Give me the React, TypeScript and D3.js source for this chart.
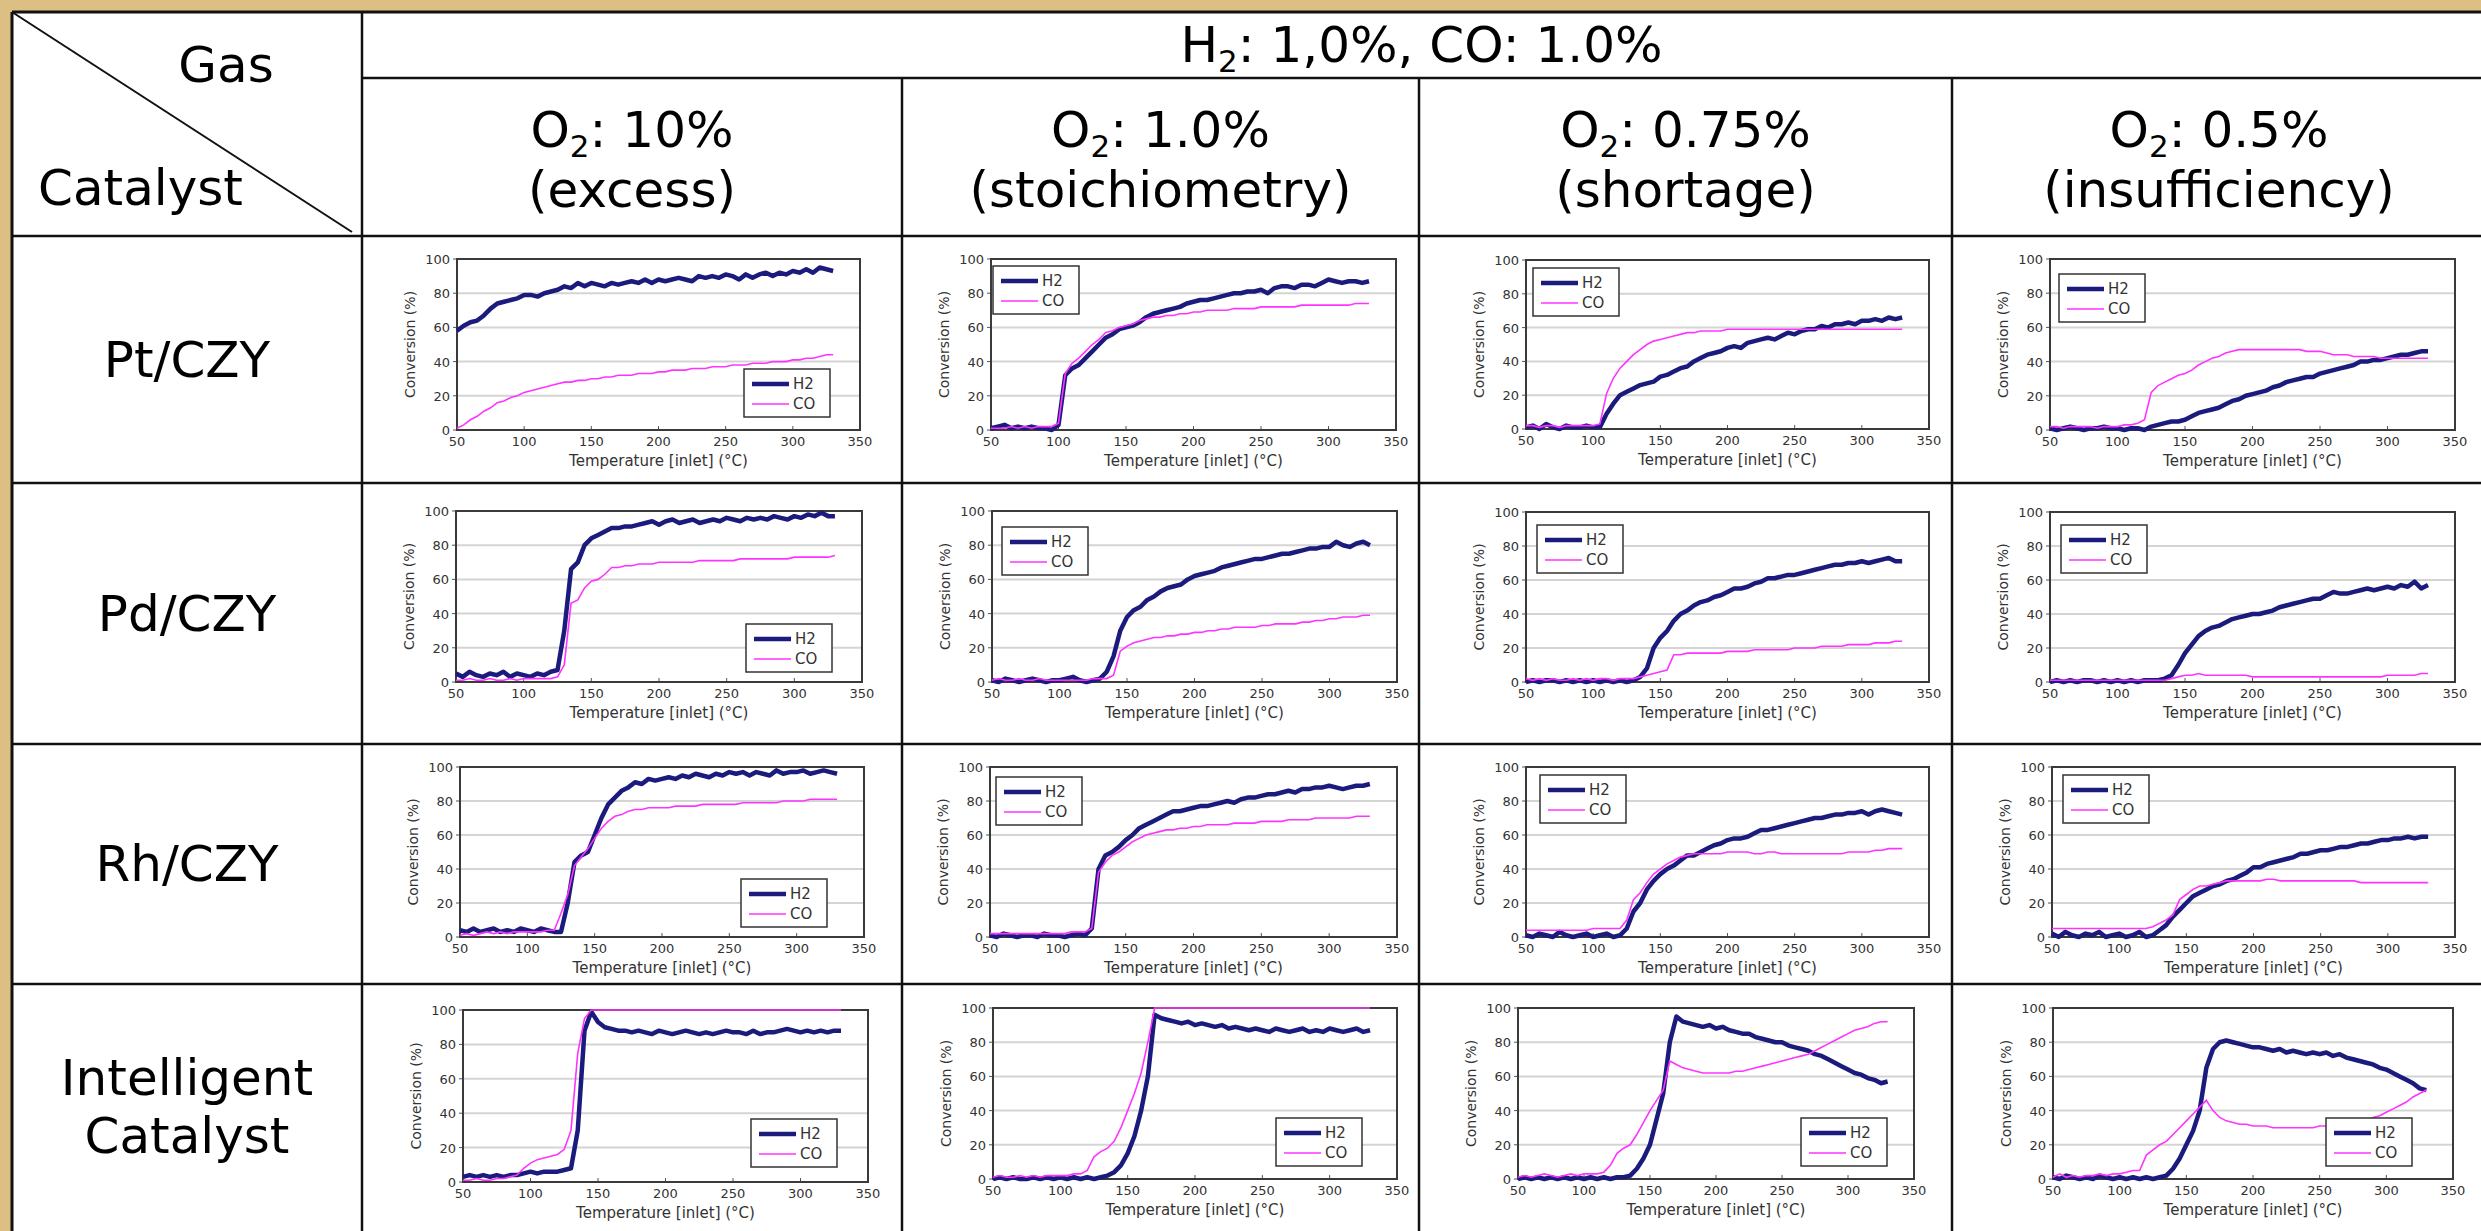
import React from 'react';
import * as d3 from 'd3';

// ---------- categories / labels ----------
const CATALYSTS = [['Pt/CZY'], ['Pd/CZY'], ['Rh/CZY'], ['Intelligent', 'Catalyst']];
const O2_LEVELS = ['10%', '1.0%', '0.75%', '0.5%'];
const O2_NOTES = ['(excess)', '(stoichiometry)', '(shortage)', '(insufficiency)'];
const X_TICKS = [50, 100, 150, 200, 250, 300, 350];
const Y_TICKS = [0, 20, 40, 60, 80, 100];

// inlet temperature grid (°C) shared by every series
const TEMPS = [
  50, 55, 60, 65, 70, 75, 80, 85, 90, 95,
  100, 105, 110, 115, 120, 125, 130, 135, 140, 145,
  150, 155, 160, 165, 170, 175, 180, 185, 190, 195,
  200, 205, 210, 215, 220, 225, 230, 235, 240, 245,
  250, 255, 260, 265, 270, 275, 280, 285, 290, 295,
  300, 305, 310, 315, 320, 325, 330,
];

// ---------- conversion (%) ----------
const PT_EXCESS_H2 = [58, 61, 63, 64, 67, 71, 74, 75, 76, 77, 79, 79, 78, 80, 81, 82, 84, 83, 86, 84, 86, 85, 84, 86, 85, 86, 87, 86, 88, 86, 88, 87, 88, 89, 88, 87, 90, 89, 90, 89, 91, 90, 88, 91, 89, 91, 92, 90, 92, 91, 93, 92, 94, 92, 95, 94, 93];
const PT_EXCESS_CO = [1, 3, 6, 8, 11, 13, 16, 17, 19, 20, 22, 23, 24, 25, 26, 27, 28, 28, 29, 29, 30, 30, 31, 31, 32, 32, 32, 33, 33, 33, 34, 34, 35, 35, 35, 36, 36, 36, 37, 37, 37, 38, 38, 38, 39, 39, 39, 40, 40, 40, 41, 41, 42, 42, 43, 44, 44];
const PT_STOICH_H2 = [1, 2, 3, 1, 2, 1, 2, 1, 1, 0, 3, 32, 36, 38, 42, 46, 50, 54, 56, 59, 60, 61, 63, 66, 68, 69, 70, 71, 72, 74, 75, 76, 76, 77, 78, 79, 80, 80, 81, 81, 82, 80, 83, 84, 84, 83, 85, 85, 84, 86, 88, 87, 86, 87, 87, 86, 87];
const PT_STOICH_CO = [1, 1, 1, 2, 1, 2, 1, 2, 2, 2, 4, 33, 39, 42, 46, 50, 53, 57, 58, 60, 61, 62, 64, 65, 66, 66, 67, 67, 68, 68, 69, 69, 70, 70, 70, 70, 71, 71, 71, 71, 72, 72, 72, 72, 72, 72, 73, 73, 73, 73, 73, 73, 73, 73, 74, 74, 74];
const PT_SHORT_H2 = [1, 2, 0, 3, 1, 0, 2, 1, 1, 2, 1, 1, 9, 15, 20, 22, 24, 26, 27, 28, 31, 32, 34, 36, 37, 40, 42, 44, 45, 46, 48, 49, 48, 51, 52, 53, 54, 53, 55, 57, 56, 58, 59, 59, 61, 60, 62, 62, 63, 62, 64, 64, 65, 64, 66, 65, 66];
const PT_SHORT_CO = [2, 2, 1, 2, 2, 1, 2, 2, 2, 2, 2, 3, 21, 30, 36, 40, 44, 47, 50, 52, 53, 54, 55, 56, 57, 57, 58, 58, 58, 58, 59, 59, 59, 59, 59, 59, 59, 59, 59, 59, 59, 59, 59, 59, 59, 59, 59, 59, 59, 59, 59, 59, 59, 59, 59, 59, 59];
const PT_INSUF_H2 = [1, 0, 1, 2, 1, 0, 1, 1, 2, 1, 1, 0, 1, 1, 0, 2, 3, 4, 5, 5, 6, 8, 10, 11, 12, 13, 15, 17, 18, 20, 21, 22, 23, 25, 26, 28, 29, 30, 31, 31, 33, 34, 35, 36, 37, 38, 40, 40, 41, 41, 42, 43, 44, 44, 45, 46, 46];
const PT_INSUF_CO = [2, 2, 1, 2, 2, 2, 2, 1, 2, 2, 2, 3, 3, 4, 6, 22, 26, 28, 30, 32, 33, 35, 38, 40, 42, 43, 45, 46, 47, 47, 47, 47, 47, 47, 47, 47, 47, 47, 46, 46, 46, 45, 44, 44, 44, 43, 43, 43, 43, 42, 42, 42, 42, 42, 42, 42, 42];

const PD_EXCESS_H2 = [5, 3, 6, 4, 3, 5, 4, 6, 3, 5, 4, 3, 5, 4, 6, 7, 30, 66, 70, 80, 84, 86, 88, 90, 90, 91, 91, 92, 93, 94, 92, 94, 95, 93, 94, 95, 93, 94, 95, 94, 96, 95, 94, 96, 95, 96, 95, 97, 96, 95, 97, 96, 98, 97, 99, 97, 97];
const PD_EXCESS_CO = [1, 1, 2, 1, 1, 2, 1, 1, 2, 1, 2, 2, 2, 2, 2, 3, 10, 46, 48, 55, 59, 60, 63, 67, 67, 68, 68, 69, 69, 69, 70, 70, 70, 70, 70, 70, 71, 71, 71, 71, 71, 71, 72, 72, 72, 72, 72, 72, 72, 72, 73, 73, 73, 73, 73, 73, 74];
const PD_STOICH_H2 = [1, 0, 2, 1, 0, 1, 2, 1, 0, 1, 1, 2, 3, 1, 0, 1, 2, 6, 15, 30, 38, 42, 44, 48, 50, 53, 55, 56, 57, 60, 62, 63, 64, 65, 67, 68, 69, 70, 71, 72, 72, 73, 74, 75, 75, 76, 77, 78, 78, 79, 79, 82, 80, 79, 81, 82, 80];
const PD_STOICH_CO = [1, 2, 1, 1, 2, 1, 1, 2, 1, 1, 1, 1, 1, 1, 1, 2, 2, 2, 4, 18, 21, 23, 24, 25, 26, 26, 27, 27, 28, 28, 29, 29, 30, 30, 31, 31, 32, 32, 32, 32, 33, 33, 34, 34, 34, 34, 35, 35, 36, 36, 37, 37, 38, 38, 38, 39, 39];
const PD_SHORT_H2 = [0, 1, 0, 1, 1, 0, 1, 0, 1, 0, 1, 0, 1, 0, 1, 0, 1, 3, 8, 20, 26, 30, 36, 40, 42, 45, 47, 48, 50, 51, 53, 55, 55, 56, 58, 59, 61, 61, 62, 63, 63, 64, 65, 66, 67, 68, 69, 69, 70, 70, 71, 70, 71, 72, 73, 71, 71];
const PD_SHORT_CO = [2, 1, 2, 1, 2, 1, 1, 2, 1, 2, 1, 2, 2, 1, 2, 2, 2, 3, 4, 5, 6, 7, 16, 16, 17, 17, 17, 17, 17, 17, 18, 18, 18, 18, 19, 19, 19, 19, 19, 19, 20, 20, 20, 20, 21, 21, 21, 21, 22, 22, 22, 22, 23, 23, 23, 24, 24];
const PD_INSUF_H2 = [0, 1, 0, 1, 0, 1, 1, 0, 1, 0, 1, 0, 1, 0, 1, 1, 1, 2, 4, 10, 17, 22, 27, 30, 32, 33, 35, 37, 38, 39, 40, 40, 41, 42, 44, 45, 46, 47, 48, 49, 49, 51, 53, 52, 52, 53, 54, 55, 54, 55, 56, 55, 57, 56, 59, 55, 57];
const PD_INSUF_CO = [1, 1, 1, 1, 1, 1, 1, 1, 1, 1, 1, 1, 1, 1, 1, 1, 1, 1, 2, 3, 4, 4, 5, 4, 4, 4, 4, 4, 4, 4, 3, 3, 3, 3, 3, 3, 3, 3, 3, 3, 3, 3, 3, 3, 3, 3, 3, 3, 3, 3, 4, 4, 4, 4, 4, 5, 5];

const RH_EXCESS_H2 = [4, 3, 5, 3, 4, 5, 3, 4, 3, 5, 4, 3, 5, 4, 3, 3, 20, 44, 48, 50, 60, 70, 78, 82, 86, 88, 91, 90, 93, 92, 93, 94, 93, 95, 94, 96, 95, 94, 96, 95, 97, 96, 97, 95, 97, 96, 95, 98, 96, 97, 97, 98, 96, 97, 98, 97, 96];
const RH_EXCESS_CO = [1, 2, 1, 2, 3, 2, 3, 2, 3, 3, 3, 3, 3, 4, 4, 14, 25, 42, 47, 52, 58, 64, 68, 71, 72, 74, 75, 75, 76, 76, 76, 76, 77, 77, 77, 77, 78, 78, 78, 78, 78, 78, 79, 79, 79, 79, 79, 79, 80, 80, 80, 80, 81, 81, 81, 81, 81];
const RH_STOICH_H2 = [1, 0, 2, 1, 0, 1, 1, 0, 2, 1, 1, 0, 1, 2, 1, 5, 40, 48, 50, 53, 57, 60, 64, 66, 68, 70, 72, 74, 74, 75, 76, 77, 77, 78, 79, 80, 79, 81, 82, 82, 83, 84, 84, 85, 86, 85, 87, 87, 88, 88, 89, 88, 87, 88, 89, 89, 90];
const RH_STOICH_CO = [2, 2, 2, 2, 2, 2, 2, 2, 2, 2, 2, 2, 3, 3, 3, 5, 38, 44, 48, 50, 53, 56, 58, 60, 61, 62, 63, 63, 64, 64, 65, 65, 66, 66, 66, 66, 67, 67, 67, 67, 68, 68, 68, 68, 69, 69, 69, 69, 70, 70, 70, 70, 70, 70, 71, 71, 71];
const RH_SHORT_H2 = [1, 0, 2, 1, 0, 3, 1, 0, 1, 2, 0, 1, 2, 0, 1, 5, 15, 20, 28, 33, 37, 40, 42, 45, 48, 48, 50, 52, 54, 55, 57, 58, 58, 59, 61, 63, 63, 64, 65, 66, 67, 68, 69, 70, 70, 71, 72, 72, 73, 73, 74, 72, 74, 75, 74, 73, 72];
const RH_SHORT_CO = [4, 4, 4, 4, 4, 4, 4, 4, 4, 4, 5, 5, 5, 5, 5, 10, 22, 26, 32, 37, 40, 43, 45, 47, 48, 49, 49, 49, 49, 49, 50, 50, 50, 50, 49, 49, 50, 50, 49, 49, 49, 49, 49, 49, 49, 49, 49, 49, 50, 50, 50, 50, 51, 51, 52, 52, 52];
const RH_INSUF_H2 = [2, 0, 3, 1, 0, 2, 1, 3, 0, 1, 2, 0, 1, 3, 0, 1, 4, 7, 12, 16, 20, 24, 26, 28, 30, 31, 33, 34, 36, 38, 41, 41, 43, 44, 45, 46, 47, 49, 49, 50, 51, 51, 52, 53, 53, 54, 55, 55, 56, 57, 57, 58, 58, 59, 58, 59, 59];
const RH_INSUF_CO = [5, 5, 5, 5, 5, 5, 5, 5, 5, 5, 5, 5, 5, 5, 5, 6, 8, 10, 13, 22, 25, 28, 30, 30, 31, 32, 33, 33, 33, 33, 33, 33, 34, 34, 33, 33, 33, 33, 33, 33, 33, 33, 33, 33, 33, 33, 32, 32, 32, 32, 32, 32, 32, 32, 32, 32, 32];

const IC_EXCESS_H2 = [3, 4, 3, 4, 3, 4, 3, 4, 4, 5, 6, 5, 6, 6, 6, 7, 8, 30, 88, 99, 93, 90, 89, 88, 88, 87, 88, 87, 86, 88, 87, 86, 87, 88, 87, 86, 87, 86, 87, 88, 87, 87, 86, 88, 86, 87, 87, 88, 89, 88, 87, 88, 87, 88, 87, 88, 88];
const IC_EXCESS_CO = [1, 1, 2, 1, 1, 2, 2, 3, 4, 8, 11, 13, 14, 15, 16, 19, 30, 75, 95, 100, 100, 100, 100, 100, 100, 100, 100, 100, 100, 100, 100, 100, 100, 100, 100, 100, 100, 100, 100, 100, 100, 100, 100, 100, 100, 100, 100, 100, 100, 100, 100, 100, 100, 100, 100, 100, 100];
const IC_STOICH_H2 = [0, 1, 0, 1, 0, 0, 1, 0, 1, 0, 1, 0, 1, 0, 1, 0, 1, 2, 4, 8, 15, 25, 40, 60, 96, 94, 93, 92, 91, 92, 90, 91, 90, 89, 90, 88, 89, 88, 87, 88, 87, 86, 88, 87, 86, 87, 88, 86, 87, 86, 88, 87, 86, 87, 88, 86, 87];
const IC_STOICH_CO = [1, 2, 1, 1, 2, 1, 2, 1, 2, 2, 2, 2, 3, 3, 5, 13, 16, 18, 22, 30, 40, 50, 62, 80, 100, 100, 100, 100, 100, 100, 100, 100, 100, 100, 100, 100, 100, 100, 100, 100, 100, 100, 100, 100, 100, 100, 100, 100, 100, 100, 100, 100, 100, 100, 100, 100, 100];
const IC_SHORT_H2 = [0, 1, 0, 1, 0, 1, 0, 1, 0, 1, 0, 1, 0, 1, 0, 1, 1, 2, 6, 12, 20, 35, 50, 80, 95, 92, 91, 90, 89, 90, 88, 89, 87, 86, 85, 85, 83, 82, 81, 80, 80, 78, 77, 76, 75, 73, 72, 70, 68, 66, 64, 62, 61, 59, 58, 56, 57];
const IC_SHORT_CO = [1, 2, 1, 2, 3, 2, 1, 2, 3, 2, 3, 3, 3, 4, 8, 15, 18, 20, 26, 33, 40, 46, 52, 69, 67, 65, 64, 63, 62, 62, 62, 62, 62, 63, 63, 64, 65, 66, 67, 68, 69, 70, 71, 72, 73, 75, 77, 79, 81, 83, 85, 87, 88, 89, 91, 92, 92];
const IC_INSUF_H2 = [1, 0, 2, 1, 0, 1, 0, 2, 1, 0, 1, 0, 1, 0, 1, 0, 1, 2, 6, 12, 20, 28, 40, 65, 76, 80, 81, 80, 79, 78, 77, 77, 76, 75, 76, 74, 75, 74, 73, 74, 73, 74, 72, 73, 71, 70, 69, 68, 67, 65, 64, 62, 60, 58, 56, 53, 52];
const IC_INSUF_CO = [1, 3, 1, 2, 1, 2, 2, 3, 2, 3, 3, 4, 5, 5, 14, 17, 20, 22, 26, 30, 34, 38, 42, 46, 40, 36, 34, 33, 32, 32, 31, 31, 31, 30, 30, 30, 30, 30, 30, 30, 31, 31, 31, 31, 32, 32, 33, 34, 36, 37, 39, 41, 43, 45, 48, 50, 52];

const SERIES = [
  [[PT_EXCESS_H2, PT_EXCESS_CO], [PT_STOICH_H2, PT_STOICH_CO], [PT_SHORT_H2, PT_SHORT_CO], [PT_INSUF_H2, PT_INSUF_CO]],
  [[PD_EXCESS_H2, PD_EXCESS_CO], [PD_STOICH_H2, PD_STOICH_CO], [PD_SHORT_H2, PD_SHORT_CO], [PD_INSUF_H2, PD_INSUF_CO]],
  [[RH_EXCESS_H2, RH_EXCESS_CO], [RH_STOICH_H2, RH_STOICH_CO], [RH_SHORT_H2, RH_SHORT_CO], [RH_INSUF_H2, RH_INSUF_CO]],
  [[IC_EXCESS_H2, IC_EXCESS_CO], [IC_STOICH_H2, IC_STOICH_CO], [IC_SHORT_H2, IC_SHORT_CO], [IC_INSUF_H2, IC_INSUF_CO]],
];

// ---------- layout (pixels) ----------
const W = 2481;
const H = 1231;
const COL_X = [12, 362, 902, 1419, 1952, 2486];
const ROW_Y = [12, 78, 236, 483, 744, 984, 1236];
const PLOTS = [
  [[457, 259, 860, 430], [991, 259, 1396, 430], [1526, 260, 1929, 429], [2050, 259, 2455, 430]],
  [[456, 511, 862, 682], [992, 511, 1397, 682], [1526, 512, 1929, 682], [2050, 512, 2455, 682]],
  [[460, 767, 864, 937], [990, 767, 1397, 937], [1526, 767, 1929, 937], [2052, 767, 2455, 937]],
  [[463, 1010, 868, 1182], [993, 1008, 1397, 1179], [1518, 1008, 1914, 1179], [2053, 1008, 2453, 1179]],
];
const LEGENDS = [
  [['br', 30, 13], ['tl', 2, 7], ['tl', 7, 8], ['tl', 9, 15]],
  [['br', 30, 10], ['tl', 10, 16], ['tl', 11, 13], ['tl', 11, 13]],
  [['br', 37, 10], ['tl', 6, 10], ['tl', 14, 8], ['tl', 11, 8]],
  [['br', 31, 15], ['br', 35, 13], ['br', 27, 13], ['br', 41, 13]],
];

const H2_COLOR = '#1b1b7d';
const CO_COLOR = '#ff33ff';
const CHART_FONT = 'DejaVu Sans, Verdana, sans-serif';
const HEAD_FONT = 'DejaVu Sans, Verdana, sans-serif';
const HEAD_SIZE = 50;

function MiniChart({ rect, h2, co, legend }: any) {
  const [l, t, r, b] = rect;
  const x = d3.scaleLinear().domain([50, 350]).range([l, r]);
  const y = d3.scaleLinear().domain([0, 100]).range([b, t]);
  const line = d3.line<number>().x((_, i) => x(TEMPS[i])).y((d) => y(d));
  const lw = 86, lh = 48;
  const [corner, dx, dy] = legend;
  const lx = corner === 'br' ? r - dx - lw : l + dx;
  const ly = corner === 'br' ? b - dy - lh : t + dy;
  return (
    <g fontFamily={CHART_FONT}>
      <rect x={l} y={t} width={r - l} height={b - t} fill="#fff" />
      {Y_TICKS.filter((v) => v > 0 && v < 100).map((v) => (
        <line key={v} x1={l} x2={r} y1={y(v)} y2={y(v)} stroke="#d4d4d4" strokeWidth={2} />
      ))}
      {X_TICKS.map((v) => (
        <line key={'xt' + v} x1={x(v)} x2={x(v)} y1={b} y2={b - 4} stroke="#555" strokeWidth={1} />
      ))}
      {Y_TICKS.map((v) => (
        <line key={'yt' + v} x1={l - 4} x2={l} y1={y(v)} y2={y(v)} stroke="#555" strokeWidth={1} />
      ))}
      <rect x={l} y={t} width={r - l} height={b - t} fill="none" stroke="#3a3a3a" strokeWidth={2} />
      <path d={line(h2) || ''} fill="none" stroke={H2_COLOR} strokeWidth={4.5} strokeLinejoin="round" />
      <path d={line(co) || ''} fill="none" stroke={CO_COLOR} strokeWidth={1.6} />
      {X_TICKS.map((v) => (
        <text key={'xl' + v} x={x(v)} y={b + 16} fontSize={13} textAnchor="middle" fill="#333">{v}</text>
      ))}
      {Y_TICKS.map((v) => (
        <text key={'yl' + v} x={l - 7} y={y(v) + 5} fontSize={13} textAnchor="end" fill="#333">{v}</text>
      ))}
      <text x={(l + r) / 2} y={b + 36} fontSize={15} textAnchor="middle" fill="#333">Temperature [inlet] (°C)</text>
      <text transform={`translate(${l - 42},${(t + b) / 2}) rotate(-90)`} fontSize={14} textAnchor="middle" fill="#333">Conversion (%)</text>
      <g>
        <rect x={lx} y={ly} width={lw} height={lh} fill="#fff" stroke="#333" strokeWidth={1.5} />
        <line x1={lx + 8} x2={lx + 45} y1={ly + 15} y2={ly + 15} stroke={H2_COLOR} strokeWidth={4.5} />
        <text x={lx + 49} y={ly + 20} fontSize={15} fill="#333">H2</text>
        <line x1={lx + 8} x2={lx + 45} y1={ly + 35} y2={ly + 35} stroke={CO_COLOR} strokeWidth={1.6} />
        <text x={lx + 49} y={ly + 40} fontSize={15} fill="#333">CO</text>
      </g>
    </g>
  );
}

function O2Label({ cx, y, level }: any) {
  return (
    <text x={cx} y={y} fontSize={HEAD_SIZE} textAnchor="middle" fontFamily={HEAD_FONT} fill="#000">
      O<tspan fontSize={31} dy={10}>2</tspan><tspan dy={-10}>: {level}</tspan>
    </text>
  );
}

export default function App() {
  const lines: any[] = [];
  const stroke = '#111';
  const sw = 2.5;
  lines.push(<line key="top" x1={COL_X[0]} x2={W + 5} y1={ROW_Y[0]} y2={ROW_Y[0]} stroke={stroke} strokeWidth={3} />);
  lines.push(<line key="hsplit" x1={COL_X[1]} x2={W + 5} y1={ROW_Y[1]} y2={ROW_Y[1]} stroke={stroke} strokeWidth={sw} />);
  ROW_Y.slice(2, 6).forEach((yy, i) => lines.push(
    <line key={'h' + i} x1={COL_X[0]} x2={W + 5} y1={yy} y2={yy} stroke={stroke} strokeWidth={sw} />
  ));
  lines.push(<line key="left" x1={COL_X[0]} x2={COL_X[0]} y1={ROW_Y[0]} y2={H + 5} stroke={stroke} strokeWidth={3} />);
  lines.push(<line key="c1" x1={COL_X[1]} x2={COL_X[1]} y1={ROW_Y[0]} y2={H + 5} stroke={stroke} strokeWidth={sw} />);
  COL_X.slice(2, 5).forEach((xx, i) => lines.push(
    <line key={'v' + i} x1={xx} x2={xx} y1={ROW_Y[1]} y2={H + 5} stroke={stroke} strokeWidth={sw} />
  ));
  lines.push(<line key="diag" x1={COL_X[0]} y1={ROW_Y[0]} x2={COL_X[1] - 10} y2={ROW_Y[2] - 4} stroke={stroke} strokeWidth={2} />);

  return (
    <svg width={W} height={H} style={{ position: 'absolute', left: 0, top: 0, display: 'block' }}>
      <rect x={0} y={0} width={W} height={H} fill="#dcc083" />
      <rect x={COL_X[0]} y={ROW_Y[0]} width={W} height={H} fill="#fff" />
      <text x={226} y={82} fontSize={HEAD_SIZE} textAnchor="middle" fontFamily={HEAD_FONT}>Gas</text>
      <text x={38} y={205} fontSize={HEAD_SIZE} fontFamily={HEAD_FONT}>Catalyst</text>
      <text x={(COL_X[1] + W) / 2} y={62} fontSize={HEAD_SIZE} textAnchor="middle" fontFamily={HEAD_FONT}>
        H<tspan fontSize={31} dy={10}>2</tspan><tspan dy={-10}>: 1,0%, CO: 1.0%</tspan>
      </text>
      {O2_LEVELS.map((lv, i) => (
        <g key={lv}>
          <O2Label cx={(COL_X[i + 1] + COL_X[i + 2]) / 2} y={147} level={lv} />
          <text x={(COL_X[i + 1] + COL_X[i + 2]) / 2} y={207} fontSize={HEAD_SIZE} textAnchor="middle" fontFamily={HEAD_FONT}>{O2_NOTES[i]}</text>
        </g>
      ))}
      {CATALYSTS.map((names, r) => {
        const top = ROW_Y[r + 2];
        const bot = Math.min(ROW_Y[r + 3], H);
        const cy = (top + bot) / 2;
        const n = names.length;
        return names.map((nm, k) => (
          <text key={nm + k} x={(COL_X[0] + COL_X[1]) / 2} y={n === 1 ? cy + 17 : 1095 + k * 58} fontSize={HEAD_SIZE} textAnchor="middle" fontFamily={HEAD_FONT}>{nm}</text>
        ));
      })}
      {SERIES.map((row, r) => row.map((pair, c) => (
        <MiniChart key={r + '-' + c} rect={PLOTS[r][c]} h2={pair[0]} co={pair[1]} legend={LEGENDS[r][c]} />
      )))}
      {lines}
    </svg>
  );
}
